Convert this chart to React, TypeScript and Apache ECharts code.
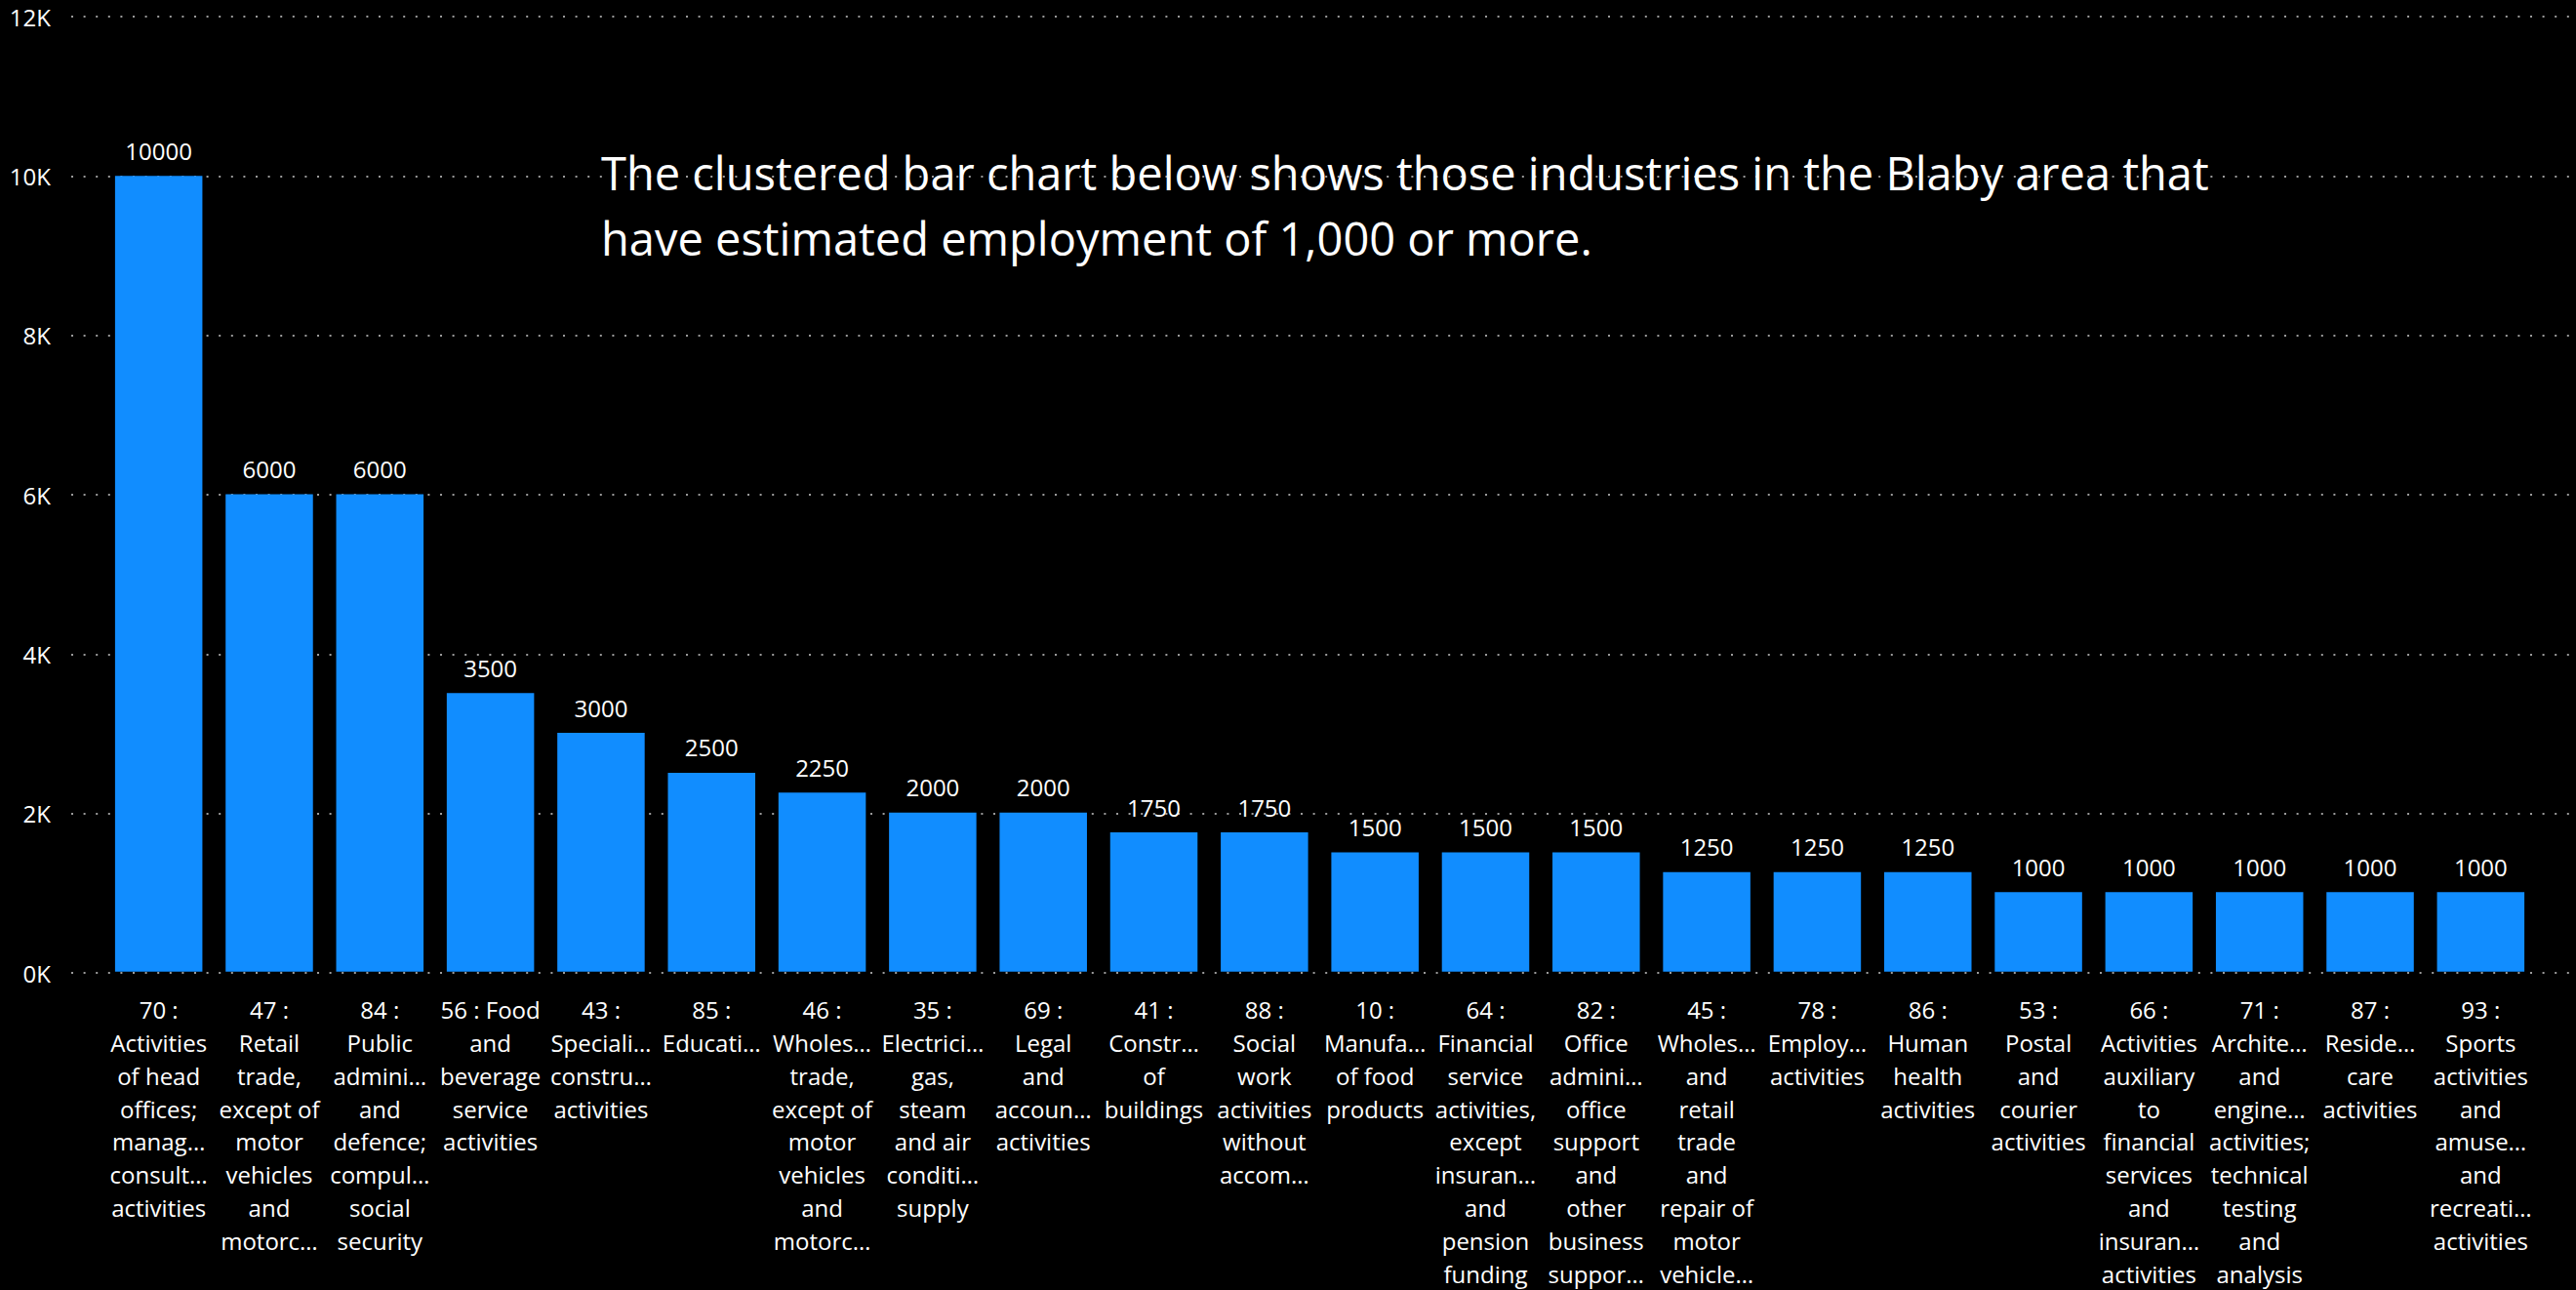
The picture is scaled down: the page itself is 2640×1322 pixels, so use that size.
import React, { useEffect, useRef } from "react";
import * as echarts from "echarts";

const categories: string[] = [
  "70 :\nActivities\nof head\noffices;\nmanag…\nconsult…\nactivities",
  "47 :\nRetail\ntrade,\nexcept of\nmotor\nvehicles\nand\nmotorc…",
  "84 :\nPublic\nadmini…\nand\ndefence;\ncompul…\nsocial\nsecurity",
  "56 : Food\nand\nbeverage\nservice\nactivities",
  "43 :\nSpeciali…\nconstru…\nactivities",
  "85 :\nEducati…",
  "46 :\nWholes…\ntrade,\nexcept of\nmotor\nvehicles\nand\nmotorc…",
  "35 :\nElectrici…\ngas,\nsteam\nand air\nconditi…\nsupply",
  "69 :\nLegal\nand\naccoun…\nactivities",
  "41 :\nConstr…\nof\nbuildings",
  "88 :\nSocial\nwork\nactivities\nwithout\naccom…",
  "10 :\nManufa…\nof food\nproducts",
  "64 :\nFinancial\nservice\nactivities,\nexcept\ninsuran…\nand\npension\nfunding",
  "82 :\nOffice\nadmini…\noffice\nsupport\nand\nother\nbusiness\nsuppor…",
  "45 :\nWholes…\nand\nretail\ntrade\nand\nrepair of\nmotor\nvehicle…",
  "78 :\nEmploy…\nactivities",
  "86 :\nHuman\nhealth\nactivities",
  "53 :\nPostal\nand\ncourier\nactivities",
  "66 :\nActivities\nauxiliary\nto\nfinancial\nservices\nand\ninsuran…\nactivities",
  "71 :\nArchite…\nand\nengine…\nactivities;\ntechnical\ntesting\nand\nanalysis",
  "87 :\nReside…\ncare\nactivities",
  "93 :\nSports\nactivities\nand\namuse…\nand\nrecreati…\nactivities",
];

const employment: number[] = [
  10000, 6000, 6000, 3500, 3000, 2500, 2250, 2000, 2000, 1750, 1750, 1500,
  1500, 1500, 1250, 1250, 1250, 1000, 1000, 1000, 1000, 1000,
];

const titleLines: string[] = [
  "The clustered bar chart below shows those industries in the Blaby area that",
  "have estimated employment of 1,000 or more.",
];

const FONT = "'Segoe UI', 'Open Sans', sans-serif";

export default function App() {
  const ref = useRef<HTMLDivElement>(null);
  useEffect(() => {
    if (!ref.current) return;
    const chart = echarts.init(ref.current, undefined, { renderer: "svg" });
    chart.setOption({
      animation: false,
      backgroundColor: "#000000",
      textStyle: { fontFamily: FONT },
      grid: [
        { left: 73, right: 0, top: 17, bottom: 325 },
        { left: 106, right: 41, top: 17, bottom: 325 },
      ],
      xAxis: [
        { type: "category", gridIndex: 0, data: [], show: false },
        {
          type: "category",
          gridIndex: 1,
          data: categories,
          axisLine: { show: false },
          axisTick: { show: false },
          axisLabel: {
            interval: 0,
            color: "#ffffff",
            fontSize: 24,
            lineHeight: 33.8,
            margin: 22,
            fontFamily: FONT,
            align: "center",
          },
        },
      ],
      yAxis: [
        {
          type: "value",
          gridIndex: 0,
          min: 0,
          max: 12000,
          interval: 2000,
          axisLine: { show: false },
          axisTick: { show: false },
          axisLabel: {
            color: "#ffffff",
            fontSize: 24,
            margin: 21,
            fontFamily: FONT,
            formatter: (v: number) => `${v / 1000}K`,
          },
          splitLine: {
            show: true,
            lineStyle: { color: "#9a9a9a", width: 2, type: [2, 10.6] },
          },
        },
        {
          type: "value",
          gridIndex: 1,
          min: 0,
          max: 12000,
          interval: 2000,
          show: false,
          splitLine: { show: false },
        },
      ],
      series: [
        {
          type: "bar",
          xAxisIndex: 1,
          yAxisIndex: 1,
          data: employment,
          barCategoryGap: "21%",
          itemStyle: { color: "#118DFF" },
          label: {
            show: true,
            position: "top",
            distance: 14,
            color: "#ffffff",
            fontSize: 24,
            fontFamily: FONT,
          },
        },
      ],
      graphic: [
        {
          type: "text",
          left: 616,
          top: 143,
          z: 100,
          style: {
            text: titleLines.join("\n"),
            fill: "#ffffff",
            fontSize: 47,
            lineHeight: 67,
            fontFamily: FONT,
          },
        },
      ],
    });
    return () => chart.dispose();
  }, []);
  return (
    <div
      ref={ref}
      style={{ position: "fixed", left: 0, top: 0, width: 2640, height: 1322, background: "#000" }}
    />
  );
}
